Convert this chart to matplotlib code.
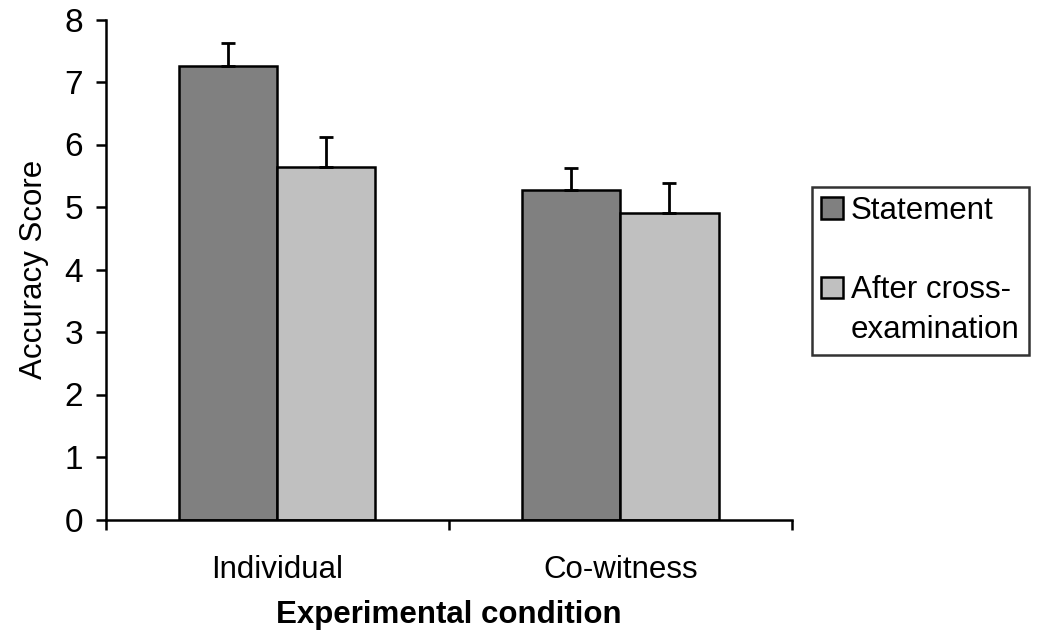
import matplotlib
matplotlib.use("Agg")
import matplotlib.pyplot as plt
from matplotlib.patches import Rectangle
import numpy as np

plt.rcParams['font.family'] = ['Liberation Sans', 'DejaVu Sans']

categories = ["Individual", "Co-witness"]
series_names = ["Statement", "After cross-examination"]
statement = [7.26, 5.27]
statement_err = [0.37, 0.35]
after = [5.64, 4.91]
after_err = [0.48, 0.48]
yticks = [0, 1, 2, 3, 4, 5, 6, 7, 8]

FS = 22.5
fig = plt.figure(figsize=(10.41, 6.42), dpi=100)
ax = fig.add_axes([105.5 / 1041, 1 - 519.5 / 642, (792 - 105.5) / 1041, 500 / 642])

x = np.arange(len(categories))
w = 0.286
ekw = dict(ecolor='black', elinewidth=2, capsize=4.7, capthick=2)
ax.bar(x - w / 2, statement, w, color='#808080', edgecolor='black', linewidth=1.8,
       yerr=[np.zeros(len(statement)), statement_err], error_kw=ekw, label=series_names[0], zorder=2)
ax.bar(x + w / 2, after, w, color='#C0C0C0', edgecolor='black', linewidth=1.8,
       yerr=[np.zeros(len(after)), after_err], error_kw=ekw, label=series_names[1], zorder=2)

ax.set_xlim(-0.5, len(categories) - 0.5)
ax.set_ylim(0, 8)
ax.set_yticks(yticks)
ax.set_yticklabels([str(t) for t in yticks])
ax.set_xticks(x)
ax.set_xticklabels(categories)
ax.set_xticks(np.arange(-0.5, len(categories)), minor=True)
ax.tick_params(axis='x', which='major', length=0, pad=25.5, labelsize=FS)
ax.tick_params(axis='x', which='minor', length=10 * 0.72, width=1.8, direction='out')
ax.tick_params(axis='y', which='major', length=10 * 0.72, width=1.8, direction='out', pad=9, labelsize=24)
for s in ['top', 'right']:
    ax.spines[s].set_visible(False)
for s in ['left', 'bottom']:
    ax.spines[s].set_linewidth(1.8)

ax.set_ylabel("Accuracy Score", fontsize=FS, labelpad=11)
ax.set_xlabel("Experimental condition", fontsize=FS, fontweight='bold', labelpad=10.5)

h1 = Rectangle((0, 0), 1, 1, facecolor='#808080', edgecolor='black', linewidth=1.8)
h2 = Rectangle((0, 0), 1, 1, facecolor='#C0C0C0', edgecolor='black', linewidth=1.8)
hb = Rectangle((0, 0), 1, 1, facecolor='none', edgecolor='none')
leg = fig.legend([h1, hb, h2, hb], [series_names[0], " ", "After cross-", "examination"],
                 loc='upper left', bbox_to_anchor=(811.7 / 1041, 1 - 186.7 / 642),
                 fontsize=FS, frameon=True, fancybox=False, borderaxespad=0,
                 handlelength=0.7, handleheight=0.7, handletextpad=0.25,
                 labelspacing=0.31, borderpad=0.3)
leg.get_frame().set_edgecolor('black')
leg.get_frame().set_linewidth(1.8)

fig.savefig("out.png", dpi=100)
